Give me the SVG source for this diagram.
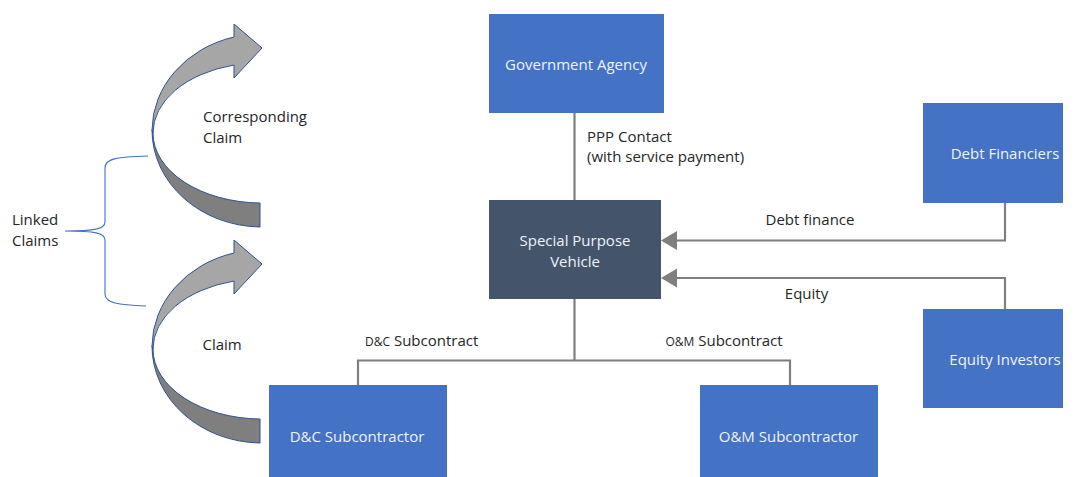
<svg xmlns="http://www.w3.org/2000/svg" width="1076" height="477" viewBox="0 0 1076 477">
  <style>
    .box { fill: #4472c4; }
    .spv { fill: #44546a; }
    .boxtext { font-family: "Open Sans", "Noto Sans", sans-serif; font-size: 15px; fill: #eef2fa; text-anchor: middle; }
    .label { font-family: "Open Sans", "Noto Sans", sans-serif; font-size: 15px; fill: #262626; }
    .small { font-size: 12px; }
    .conn { fill: none; stroke: #7f7f7f; stroke-width: 2.2; }
    .brace { fill: none; stroke: #4472c4; stroke-width: 1.1; }
    .ribbon-light { fill: #a6a6a6; stroke: #2f528f; stroke-width: 1; stroke-linejoin: round; }
    .ribbon-dark { fill: #7f7f7f; stroke: #2f528f; stroke-width: 1; stroke-linejoin: round; }
  </style>
  <defs>
    <marker id="arrow" markerWidth="16" markerHeight="20" viewBox="0 0 16 20" refX="0" refY="10" orient="auto" markerUnits="userSpaceOnUse">
      <path d="M 16,10 L 0,0.5 L 0,19.5 Z" fill="#7f7f7f"/>
    </marker>
    <!-- curved claim arrow: dark underside ribbon plus light upper ribbon with head -->
    <g id="curved-arrow">
      <path class="ribbon-dark" d="M 260,203 A 109 70 0 0 1 153,133 L 152,130 A 110 97 0 0 0 260,227 Z"/>
      <path class="ribbon-light" d="M 234,37 L 234,24 L 262,48 L 234,78 L 234,65 A 109 70 0 0 0 153,133 L 152,130 A 110 97 0 0 1 234,37 Z"/>
    </g>
  </defs>

  <!-- connectors -->
  <g id="connectors">
    <line class="conn" x1="574.5" y1="113" x2="574.5" y2="200"/>
    <path class="conn" d="M 1005,203 L 1005,240.5 L 677,240.5" marker-end="url(#arrow)"/>
    <path class="conn" d="M 1005,309 L 1005,278 L 677,278" marker-end="url(#arrow)"/>
    <path class="conn" d="M 574.5,299 L 574.5,360.5 M 358,385 L 358,360.5 L 790,360.5 L 790,385"/>
  </g>
  <g id="connector-labels">
    <text class="label" x="587" y="142">PPP Contact</text>
    <text class="label" x="587" y="162">(with service payment)</text>
    <text class="label" x="810" y="225" text-anchor="middle">Debt finance</text>
    <text class="label" x="806.5" y="299" text-anchor="middle">Equity</text>
    <text class="label" x="365" y="346"><tspan class="small">D&amp;C</tspan> Subcontract</text>
    <text class="label" x="665.5" y="346"><tspan class="small">O&amp;M</tspan> Subcontract</text>
  </g>

  <!-- nodes -->
  <g id="government-agency">
    <rect class="box" x="489" y="14" width="175" height="99"/>
    <text class="boxtext" x="576" y="70">Government Agency</text>
  </g>
  <g id="special-purpose-vehicle">
    <rect class="spv" x="489" y="200" width="172" height="99"/>
    <text class="boxtext" x="575" y="246">Special Purpose</text>
    <text class="boxtext" x="575" y="267">Vehicle</text>
  </g>
  <g id="debt-financiers">
    <rect class="box" x="923" y="103" width="140" height="100"/>
    <text class="boxtext" x="1005" y="159">Debt Financiers</text>
  </g>
  <g id="equity-investors">
    <rect class="box" x="923" y="309" width="140" height="99"/>
    <text class="boxtext" x="1005" y="365">Equity Investors</text>
  </g>
  <g id="dc-subcontractor">
    <rect class="box" x="269" y="385" width="178" height="92"/>
    <text class="boxtext" x="357" y="441.5">D&amp;C Subcontractor</text>
  </g>
  <g id="om-subcontractor">
    <rect class="box" x="700" y="385" width="178" height="92"/>
    <text class="boxtext" x="788.5" y="441.5">O&amp;M Subcontractor</text>
  </g>

  <!-- linked claims -->
  <g id="corresponding-claim">
    <use href="#curved-arrow"/>
    <text class="label" x="203" y="122">Corresponding</text>
    <text class="label" x="203" y="143">Claim</text>
  </g>
  <g id="claim">
    <use href="#curved-arrow" transform="translate(0,216)"/>
    <text class="label" x="202.5" y="350">Claim</text>
  </g>
  <g id="linked-claims">
    <path class="brace" d="M 148,156 C 118,157 105,158 105,168 L 105,222 C 105,229 95,231 65,231 C 95,231 105,233 105,240 L 105,294 C 105,303 118,305 146,306"/>
    <text class="label" x="12" y="225">Linked</text>
    <text class="label" x="12" y="245.5">Claims</text>
  </g>
</svg>
